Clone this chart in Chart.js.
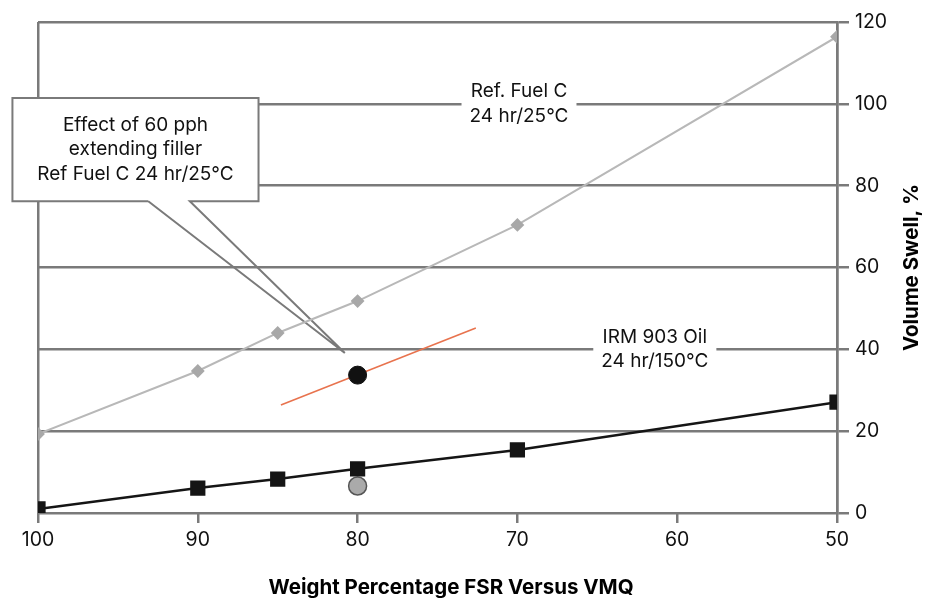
<!DOCTYPE html>
<html><head><meta charset="utf-8">
<script src="https://cdn.jsdelivr.net/npm/chart.js@4/dist/chart.umd.min.js"></script>
<style>html,body{margin:0;padding:0;background:#fff;}#wrap{width:935px;height:598px;}</style>
</head><body><div id="wrap"><canvas id="c" width="935" height="598"></canvas></div>
<script>
// ---- data ----
const weightFSR = [100, 90, 85, 80, 70, 50];
const refFuelC = [19.3, 34.7, 44.0, 51.8, 70.4, 116.4];
const irm903 = [1.0, 6.1, 8.3, 10.8, 15.4, 27.1];
const filledX = [80];
const filledRefFuelC = [33.7];
const filledIrm903 = [6.6];
const trendX = [84.8, 72.6];
const trendY = [26.4, 45.2];
const xTicks = [100, 90, 80, 70, 60, 50];
const yTicks = [0, 20, 40, 60, 80, 100, 120];
const refLabel = ['Ref. Fuel C', '24 hr/25°C'];
const irmLabel = ['IRM 903 Oil', '24 hr/150°C'];
const calloutText = ['Effect of 60 pph', 'extending filler', 'Ref Fuel C 24 hr/25°C'];
const xTitle = 'Weight Percentage FSR Versus VMQ';
const yTitle = 'Volume Swell, %';

// ---- annotation anchors in data units ----
const refLabelAt = {x: 69.9, y: 100};
const irmLabelAt = {x: 61.4, y: 40};
const calloutBox = {x1: 101.6, x2: 86.2, y1: 101.4, y2: 76.2};
const calloutBase = [93.1, 90.5];
const calloutTarget = {x: 80.8, y: 39.1};

const FONT = 'Inter, "Liberation Sans", Arial, sans-serif';
const GRID = '#7a7a7a';
const TXT = '#111';
const pts = (xs, ys) => xs.map((x, i) => ({x, y: ys[i]}));

function textBlock(ctx, lines, cx, cy, lh) {
  const n = lines.length;
  lines.forEach((t, i) => ctx.fillText(t, cx, cy + (i - (n - 1) / 2) * lh));
}

const annotations = {
  id: 'annotations',
  beforeDatasetsDraw(chart) {
    const {ctx, scales: {x, y}} = chart;
    ctx.save();
    ctx.font = '19px ' + FONT;
    ctx.textAlign = 'center';
    ctx.textBaseline = 'middle';
    [[refLabel, refLabelAt], [irmLabel, irmLabelAt]].forEach(([lines, at]) => {
      const cx = x.getPixelForValue(at.x), cy = y.getPixelForValue(at.y);
      const w = Math.max(...lines.map(t => ctx.measureText(t).width)) + 16;
      ctx.fillStyle = '#fff';
      ctx.fillRect(cx - w / 2, cy - 26, w, 52);
      ctx.fillStyle = TXT;
      textBlock(ctx, lines, cx, cy, 24.5);
    });
    // callout
    const bx1 = x.getPixelForValue(calloutBox.x1), bx2 = x.getPixelForValue(calloutBox.x2);
    const by1 = y.getPixelForValue(calloutBox.y1), by2 = y.getPixelForValue(calloutBox.y2);
    const p1 = x.getPixelForValue(calloutBase[0]), p2 = x.getPixelForValue(calloutBase[1]);
    const tx = x.getPixelForValue(calloutTarget.x), ty = y.getPixelForValue(calloutTarget.y);
    ctx.fillStyle = '#fff';
    ctx.fillRect(bx1, by1, bx2 - bx1, by2 - by1);
    ctx.strokeStyle = GRID;
    ctx.lineWidth = 2;
    ctx.beginPath();
    ctx.moveTo(p1, by2);
    ctx.lineTo(bx1, by2);
    ctx.lineTo(bx1, by1);
    ctx.lineTo(bx2, by1);
    ctx.lineTo(bx2, by2);
    ctx.lineTo(p2, by2);
    ctx.lineTo(tx, ty);
    ctx.lineTo(p1, by2);
    ctx.stroke();
    ctx.fillStyle = TXT;
    textBlock(ctx, calloutText, (bx1 + bx2) / 2, (by1 + by2) / 2, 24.5);
    ctx.restore();
  },
  afterDraw(chart) {
    const {ctx, chartArea} = chart;
    ctx.save();
    ctx.font = 'bold 20.5px ' + FONT;
    ctx.fillStyle = '#000';
    ctx.textAlign = 'center';
    ctx.textBaseline = 'middle';
    ctx.fillText(xTitle, 451, 588);
    ctx.translate(912, (chartArea.top + chartArea.bottom) / 2);
    ctx.rotate(-Math.PI / 2);
    ctx.fillText(yTitle, 0, 0);
    ctx.restore();
  }
};

new Chart(document.getElementById('c'), {
  type: 'scatter',
  data: {
    datasets: [
      {label: 'Filled Ref Fuel C', data: pts(filledX, filledRefFuelC), showLine: false,
       pointRadius: 9, pointBackgroundColor: '#111', pointBorderColor: '#111', order: 0},
      {label: 'Filled IRM 903', data: pts(filledX, filledIrm903), showLine: false,
       pointRadius: 9, pointBackgroundColor: '#aaaaaa', pointBorderColor: '#555', pointBorderWidth: 1.5, order: 2},
      {label: 'Filler trend', data: pts(trendX, trendY), showLine: true, borderColor: '#e8734e',
       borderWidth: 1.6, pointRadius: 0, order: 1},
      {label: 'IRM 903 Oil', data: pts(weightFSR, irm903), showLine: true, borderColor: '#151515',
       borderWidth: 2.5, pointStyle: 'rect', pointRadius: 9, pointBackgroundColor: '#151515',
       pointBorderColor: '#151515', order: 1},
      {label: 'Ref. Fuel C', data: pts(weightFSR, refFuelC), showLine: true, borderColor: '#b8b8b8',
       borderWidth: 2, pointStyle: 'rectRot', pointRadius: 5.5, pointBackgroundColor: '#a8a8a8',
       pointBorderColor: '#a8a8a8', order: 3}
    ]
  },
  options: {
    responsive: false,
    animation: false,
    devicePixelRatio: 1,
    layout: {padding: {left: 38, top: 22, right: 0, bottom: 0}},
    plugins: {legend: {display: false}, tooltip: {enabled: false}},
    scales: {
      x: {
        type: 'linear', reverse: true, min: 50, max: 100,
        afterBuildTicks: s => { s.ticks = xTicks.map(v => ({value: v})); },
        ticks: {font: {family: FONT, size: 19.5}, color: TXT, padding: 5, maxRotation: 0, autoSkip: false},
        grid: {
          color: c => (c.tick && (c.tick.value === 100 || c.tick.value === 50)) ? GRID : 'rgba(0,0,0,0)',
          lineWidth: 2.5, tickColor: GRID, tickLength: 10, tickWidth: 2.5, drawOnChartArea: true
        },
        border: {display: false},
        title: {display: false},
        afterFit: s => { s.height = 85; }
      },
      y: {
        position: 'right', min: 0, max: 120,
        afterBuildTicks: s => { s.ticks = yTicks.map(v => ({value: v})); },
        ticks: {font: {family: FONT, size: 19.5}, color: TXT, padding: 6},
        grid: {color: GRID, lineWidth: 2.5, tickLength: 12, tickColor: GRID},
        border: {display: true, color: GRID, width: 2.5},
        afterFit: s => { s.width = 98; }
      }
    }
  },
  plugins: [annotations]
});
</script></body></html>
